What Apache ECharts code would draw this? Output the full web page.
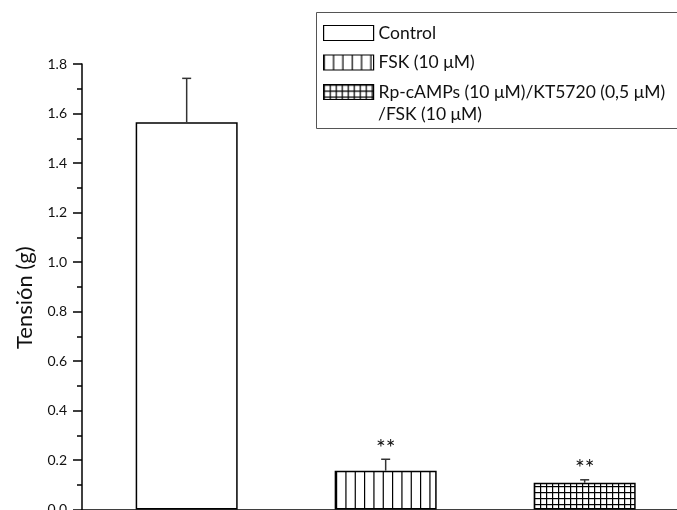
<!DOCTYPE html>
<html>
<head>
<meta charset="utf-8">
<script src="https://cdn.jsdelivr.net/npm/echarts@6/dist/echarts.min.js"></script>
<style>
  html, body { margin: 0; padding: 0; background: #fff; }
  #chart { width: 677px; height: 510px; }
</style>
</head>
<body>
<div id="chart"></div>
<script>
// Groups, bar heights (g), upper error (g) and significance marks
const categories = ['Control', 'FSK (10 μM)', 'Rp-cAMPs (10 μM)/KT5720 (0,5 μM)'];
const positions = [1, 2, 3];
const means = [1.565, 0.157, 0.108];
const errors = [0.177, 0.046, 0.012];
const marks = ['', '**', '**'];
const yMin = 0, yMax = 1.8, yStep = 0.2;

const FONT = 'Lato, "Noto Sans", sans-serif';

// Hatch fills: plain, vertical lines, square grid
function verticalLines() {
  const c = document.createElement('canvas');
  c.width = 28; c.height = 4;
  const g = c.getContext('2d');
  g.fillStyle = '#fff'; g.fillRect(0, 0, 28, 4);
  g.fillStyle = '#000';
  [0, 9.33, 18.67].forEach(x => g.fillRect(x, 0, 1.2, 4));
  return c;
}
function squareGrid() {
  const c = document.createElement('canvas');
  c.width = 6; c.height = 6;
  const g = c.getContext('2d');
  g.fillStyle = '#fff'; g.fillRect(0, 0, 6, 6);
  g.fillStyle = '#000';
  g.fillRect(0, 0, 6, 1.2);
  g.fillRect(0, 0, 1.2, 6);
  return c;
}
const fills = [
  '#ffffff',
  { image: verticalLines(), repeat: 'repeat' },
  { image: squareGrid(), repeat: 'repeat' }
];

const chart = echarts.init(document.getElementById('chart'), null, { renderer: 'canvas' });

const barSeries = categories.map((name, i) => ({
  name: name,
  type: 'bar',
  barWidth: 102,
  barGap: '-100%',
  data: [[positions[i], means[i]]],
  itemStyle: { color: fills[i], borderColor: '#000', borderWidth: 1.5 },
  emphasis: { disabled: true },
  z: 2
}));

const errorSeries = {
  type: 'custom',
  name: 'err',
  data: positions.map((p, i) => [p, means[i], errors[i], i]),
  renderItem: function (params, api) {
    const x = api.value(0), y = api.value(1), e = api.value(2), idx = api.value(3);
    const base = api.coord([x, y]);
    const top = api.coord([x, y + e]);
    const half = 4.5;
    const children = [
      { type: 'line', shape: { x1: base[0], y1: base[1], x2: top[0], y2: top[1] },
        style: { stroke: '#333', lineWidth: 1.5 } },
      { type: 'line', shape: { x1: top[0] - half, y1: top[1], x2: top[0] + half, y2: top[1] },
        style: { stroke: '#333', lineWidth: 1.5 } }
    ];
    if (marks[idx]) {
      children.push({ type: 'text', x: top[0], y: top[1] - 11,
        style: { text: marks[idx], fill: '#111', font: '23px ' + FONT,
                 align: 'center', verticalAlign: 'middle' } });
    }
    return { type: 'group', children: children };
  },
  z: 3,
  silent: true
};

chart.setOption({
  animation: false,
  backgroundColor: '#fff',
  textStyle: { fontFamily: FONT },
  grid: { left: 82, right: 0, top: 64, bottom: 0.5, containLabel: false, outerBoundsMode: 'none' },
  legend: {
    data: categories,
    orient: 'vertical',
    left: 323,
    top: 24,
    icon: 'rect',
    itemWidth: 50,
    itemHeight: 15,
    itemGap: 11.5,
    padding: 0,
    selectedMode: false,
    textStyle: { fontSize: 17.5, color: '#111', fontFamily: FONT },
    itemStyle: { borderColor: '#000', borderWidth: 1.2 }
  },
  graphic: [
    { type: 'rect', left: 314, top: 10, shape: { width: 361.5, height: 116 },
      style: { fill: 'none', stroke: '#555', lineWidth: 1 }, z: 10, silent: true },
    { type: 'text', left: 378, top: 105,
      style: { text: '/FSK (10 μM)', font: '17.5px ' + FONT, fill: '#111' }, z: 10 }
  ],
  xAxis: {
    type: 'value',
    min: 0.474,
    max: 3.464,
    axisLine: { show: true, lineStyle: { color: '#000', width: 1.5 } },
    axisTick: { show: false },
    axisLabel: { show: false },
    splitLine: { show: false }
  },
  yAxis: {
    type: 'value',
    min: yMin,
    max: yMax,
    interval: yStep,
    name: 'Tensión (g)',
    nameLocation: 'middle',
    nameGap: 46,
    nameTextStyle: { fontSize: 22, color: '#111', fontFamily: FONT, padding: [0, 22, 0, 0] },
    axisLine: { show: true, lineStyle: { color: '#000', width: 1.5 } },
    axisTick: { show: true, inside: false, length: 9, lineStyle: { color: '#000', width: 1.5 } },
    minorTick: { show: true, splitNumber: 2, length: 5, lineStyle: { color: '#000', width: 1.5 } },
    axisLabel: { fontSize: 14, color: '#111', margin: 15, fontFamily: FONT,
                 formatter: v => v.toFixed(1) },
    splitLine: { show: false }
  },
  series: barSeries.concat([errorSeries])
});
</script>
</body>
</html>
